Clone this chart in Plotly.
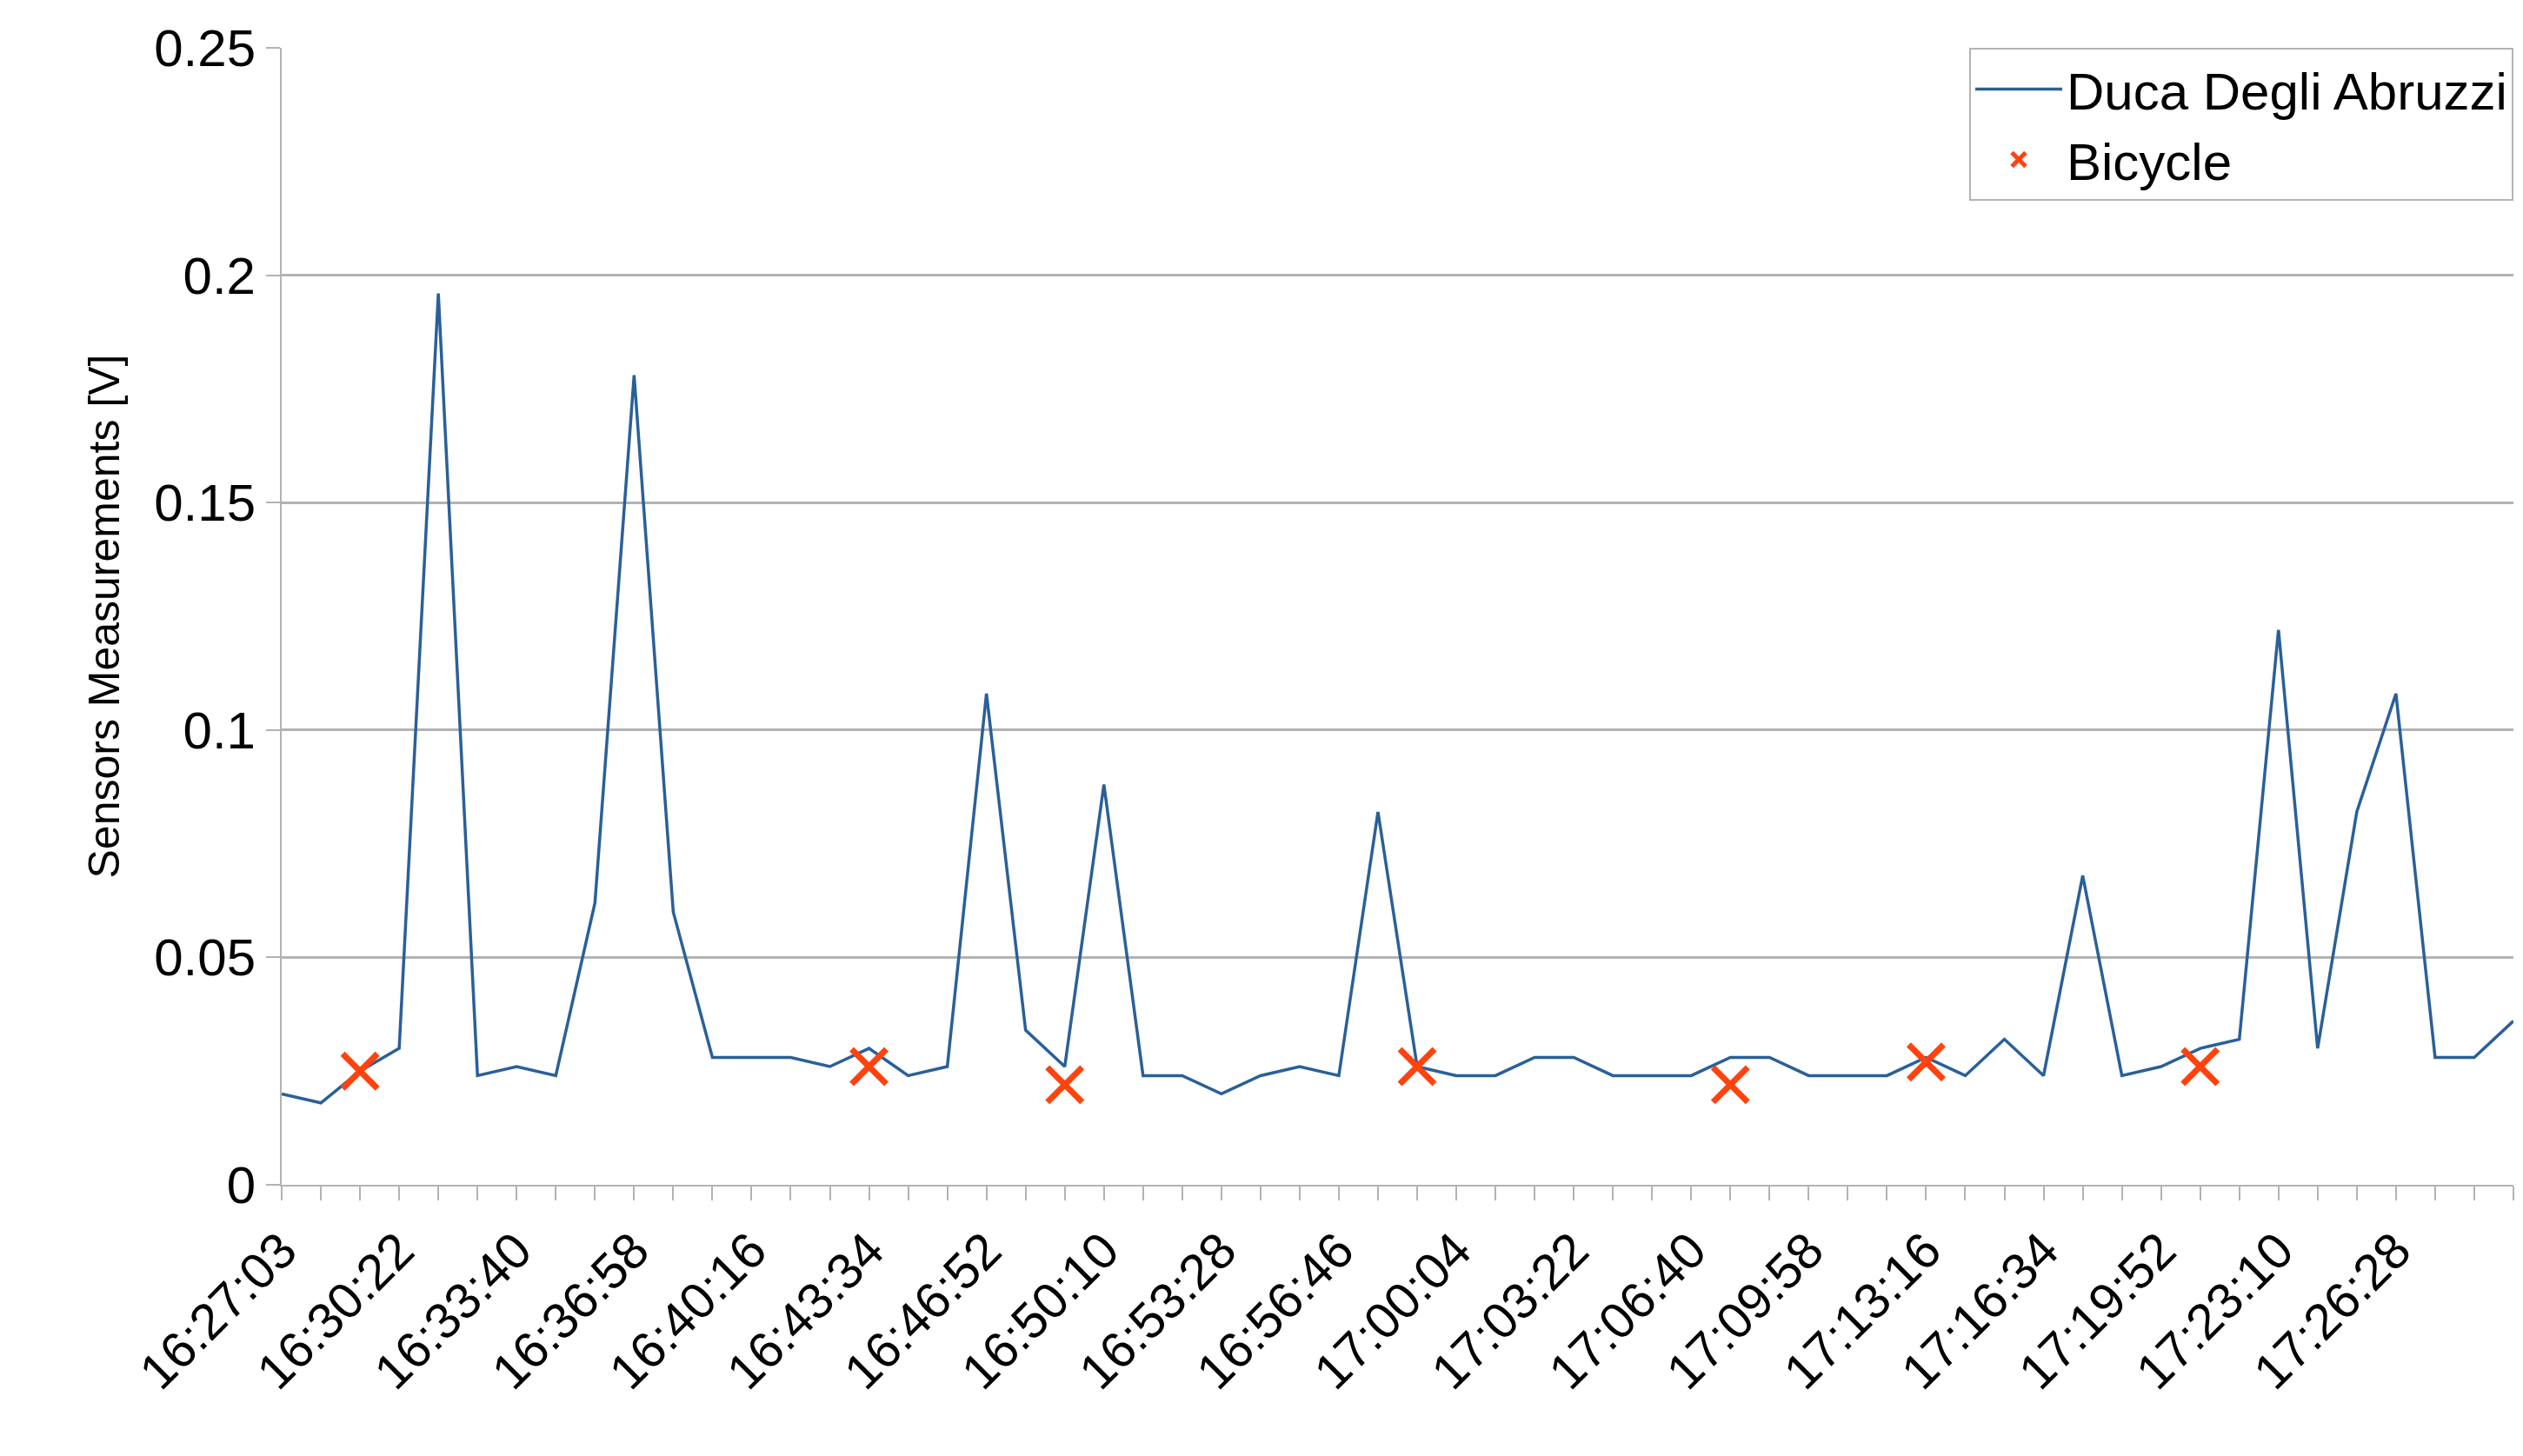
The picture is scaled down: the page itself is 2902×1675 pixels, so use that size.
"""Sensor measurements along Duca Degli Abruzzi with bicycle samples."""

import plotly.graph_objects as go

tick_labels = [
    "16:27:03", "16:30:22", "16:33:40", "16:36:58", "16:40:16", "16:43:34",
    "16:46:52", "16:50:10", "16:53:28", "16:56:46", "17:00:04", "17:03:22",
    "17:06:40", "17:09:58", "17:13:16", "17:16:34", "17:19:52", "17:23:10",
    "17:26:28", "17:29:46",
]

duca_values = [
    0.020, 0.018, 0.025, 0.030, 0.196, 0.024, 0.026, 0.024, 0.062, 0.178,
    0.060, 0.028, 0.028, 0.028, 0.026, 0.030, 0.024, 0.026, 0.108, 0.034,
    0.026, 0.088, 0.024, 0.024, 0.020, 0.024, 0.026, 0.024, 0.082, 0.026,
    0.024, 0.024, 0.028, 0.028, 0.024, 0.024, 0.024, 0.028, 0.028, 0.024,
    0.024, 0.024, 0.028, 0.024, 0.032, 0.024, 0.068, 0.024, 0.026, 0.030,
    0.032, 0.122, 0.030, 0.082, 0.108, 0.028, 0.028, 0.036,
]

bicycle_index = [2, 15, 20, 29, 37, 42, 49]
bicycle_values = [0.025, 0.026, 0.022, 0.026, 0.022, 0.027, 0.026]

fig = go.Figure()
fig.add_trace(go.Scatter(
    x=list(range(len(duca_values))), y=duca_values,
    name="Duca Degli Abruzzi", mode="lines",
    line={"color": "#2a6099", "width": 3.5},
))
fig.add_trace(go.Scatter(
    x=bicycle_index, y=bicycle_values, name="Bicycle", mode="markers",
    marker={"symbol": "x-thin", "size": 40, "line": {"color": "#ff420e", "width": 7}},
))

last = len(duca_values) - 1
fig.update_layout(
    width=2902, height=1675,
    paper_bgcolor="white", plot_bgcolor="white",
    margin={"l": 316, "r": 19, "t": 47, "b": 320},
    font={"family": "Liberation Sans", "color": "#000000", "size": 60},
    legend={
        "x": 1.0, "y": 1.0, "xanchor": "right", "yanchor": "top",
        "bordercolor": "#b3b3b3", "borderwidth": 2, "bgcolor": "white",
        "font": {"size": 60}, "itemwidth": 100, "tracegroupgap": 20,
    },
    xaxis={
        "range": [-0.001, last + 0.001],
        "tickvals": list(range(0, len(duca_values), 3)),
        "ticktext": tick_labels,
        "tickangle": -45,
        "ticks": "outside", "ticklen": 16, "tickcolor": "#b3b3b3", "tickwidth": 2,
        "minor": {"dtick": 1, "ticks": "outside", "ticklen": 16,
                  "tickcolor": "#b3b3b3", "tickwidth": 2},
        "showgrid": False, "showline": True, "linecolor": "#b3b3b3", "linewidth": 2,
        "zeroline": False, "tickfont": {"size": 58},
    },
    yaxis={
        "range": [0, 0.25],
        "tickvals": [0, 0.05, 0.1, 0.15, 0.2, 0.25],
        "ticktext": ["0", "0.05", "0.1", "0.15", "0.2", "0.25"],
        "ticks": "outside", "ticklen": 16, "tickcolor": "#b3b3b3", "tickwidth": 2,
        "showgrid": True, "gridcolor": "#b3b3b3", "gridwidth": 3,
        "showline": True, "linecolor": "#b3b3b3", "linewidth": 2,
        "zeroline": False, "tickfont": {"size": 60},
        "title": {"text": "Sensors Measurements [V]", "font": {"size": 50}, "standoff": 24},
    },
)

fig.write_html("out.html")
